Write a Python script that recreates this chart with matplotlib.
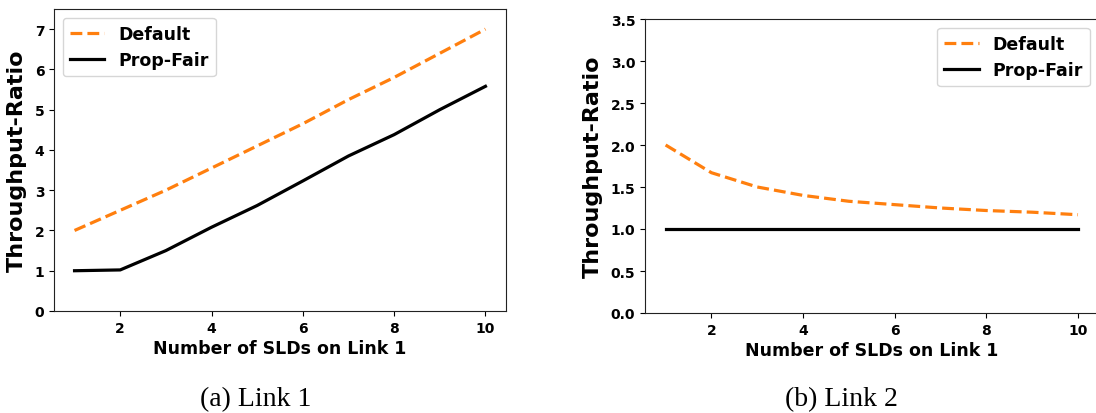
import matplotlib
matplotlib.use("Agg")
import matplotlib.pyplot as plt

n_slds = [1, 2, 3, 4, 5, 6, 7, 8, 9, 10]
link1_default = [2.0, 2.5, 3.0, 3.55, 4.1, 4.65, 5.25, 5.8, 6.4, 7.0]
link1_propfair = [1.0, 1.02, 1.5, 2.08, 2.62, 3.23, 3.85, 4.38, 5.0, 5.58]
link2_default = [2.0, 1.67, 1.5, 1.4, 1.33, 1.29, 1.25, 1.22, 1.2, 1.17]
link2_propfair = [1.0, 1.0, 1.0, 1.0, 1.0, 1.0, 1.0, 1.0, 1.0, 1.0]
series_labels = ["Default", "Prop-Fair"]
captions = ["(a) Link 1", "(b) Link 2"]
xlabel = "Number of SLDs on Link 1"
ylabel = "Throughput-Ratio"

W, H = 1096, 414
fig = plt.figure(figsize=(W / 100, H / 100), dpi=100)

def box(l, t, r, b):
    return [l / W, (H - b) / H, (r - l) / W, (b - t) / H]

ax1 = fig.add_axes(box(54, 10, 506, 312))
ax2 = fig.add_axes(box(645, 20, 1098.6, 314))

tick_fs = 10
for ax, d, p, ylim, yt, loc in [
    (ax1, link1_default, link1_propfair, (0, 7.5), [0, 1, 2, 3, 4, 5, 6, 7], "upper left"),
    (ax2, link2_default, link2_propfair, (0, 3.5), [0, 0.5, 1.0, 1.5, 2.0, 2.5, 3.0, 3.5], "upper right"),
]:
    ax.plot(n_slds, d, color="#ff7f0e", linestyle="--", linewidth=2.3, label=series_labels[0])
    ax.plot(n_slds, p, color="black", linestyle="-", linewidth=2.3, label=series_labels[1])
    ax.set_ylim(*ylim)
    ax.set_yticks(yt)
    ax.set_xticks([2, 4, 6, 8, 10])
    ax.set_xlabel(xlabel, fontsize=12.5, fontweight="bold", labelpad=3)
    ax.set_ylabel(ylabel, fontsize=16, fontweight="bold")
    for lab in ax.get_xticklabels() + ax.get_yticklabels():
        lab.set_fontweight("bold")
        lab.set_fontsize(tick_fs)
    ax.legend(loc=loc, prop={"weight": "bold", "size": 12.5})
    for s in ax.spines.values():
        s.set_color("#222222")

ax1.yaxis.set_label_coords(-0.06, 0.5)
ax2.yaxis.set_label_coords(-0.092, 0.5)
ax2.yaxis.set_major_formatter(matplotlib.ticker.FormatStrFormatter("%.1f"))
for lab in ax2.get_yticklabels():
    lab.set_fontweight("bold")

fig.text(256 / W, 1 - 400 / H, captions[0], ha="center", va="center",
         fontsize=20, family="Liberation Serif")
fig.text(841 / W, 1 - 400 / H, captions[1], ha="center", va="center",
         fontsize=20, family="Liberation Serif")

fig.savefig("out.png", dpi=100)
